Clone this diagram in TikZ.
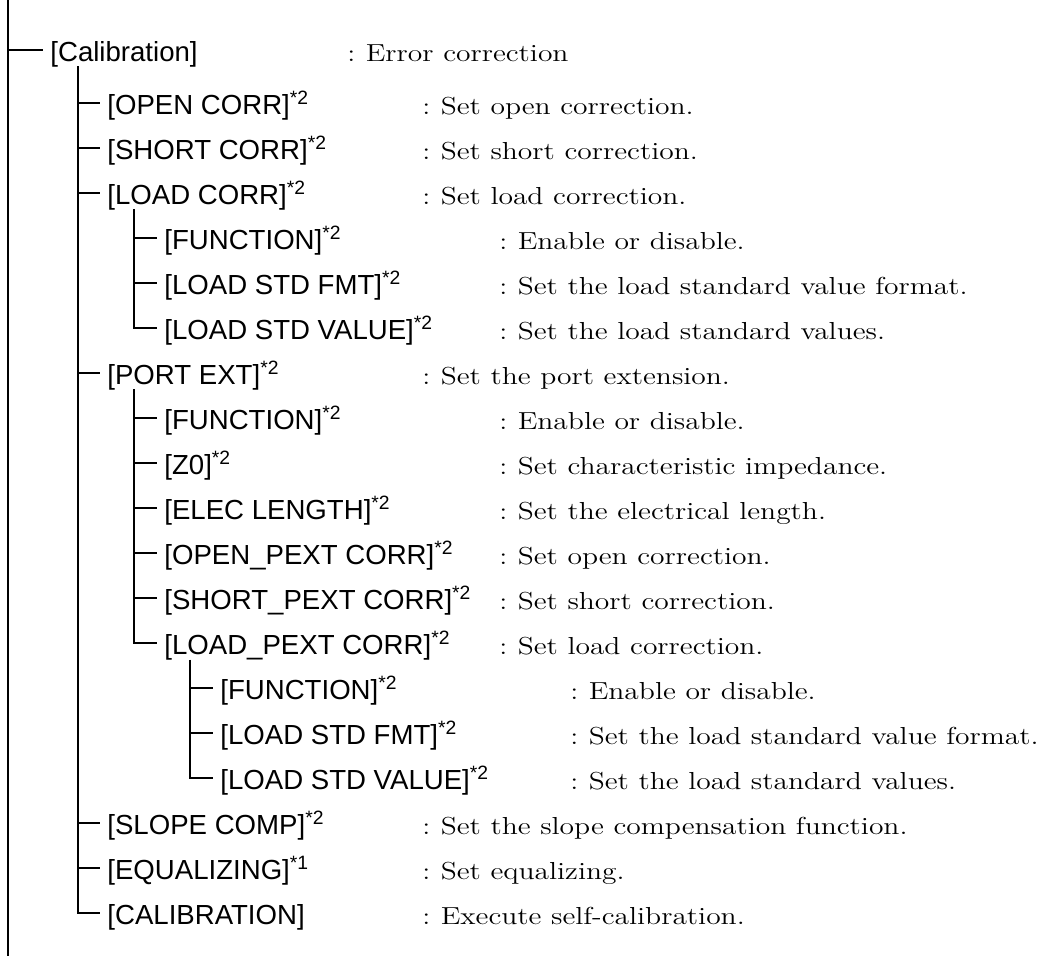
\documentclass[tikz,border=0pt]{standalone}
\usepackage{graphicx}
\usepackage{fontspec}
\newfontfamily\menufont{Liberation Sans}
\newcommand{\nt}[1]{\textsuperscript{*#1}}
\newcommand{\wide}[1]{\scalebox{1.2}[1]{:\hspace{0.35em}#1}}
\tikzset{
    item/.style={
        anchor=west,
        inner xsep=3.5pt,
        inner ysep=1.5pt,
        text height=12.4pt,
        text depth=0.7pt,
        font=\menufont\fontsize{13.8}{16}\selectfont
    },
    desc/.style={
        anchor=west,
        inner sep=0pt,
        text height=12.4pt,
        text depth=0.7pt,
        font=\fontsize{12.3}{14}\selectfont
    },
    branch/.style={
        line width=1pt
    }
}
\begin{document}
\begin{tikzpicture}[x=0.5pt,y=-0.5pt]

      \useasboundingbox (0,0) rectangle (1054,956);

      \coordinate (v0) at (8,0);
      \coordinate (v1) at (78,0);
      \coordinate (v2) at (134,0);
      \coordinate (v3) at (190,0);
      \coordinate (end) at (8,956);

      % menu items
      \node[item] (cal) at (43,50) {[Calibration]};
      \node[item] (open) at (100,103) {[OPEN CORR]\nt2};
      \node[item] (short) at (100,148) {[SHORT CORR]\nt2};
      \node[item] (load) at (100,193) {[LOAD CORR]\nt2};
      \node[item] (lfun) at (157,238) {[FUNCTION]\nt2};
      \node[item] (lfmt) at (157,283) {[LOAD STD FMT]\nt2};
      \node[item] (lval) at (157,328) {[LOAD STD VALUE]\nt2};
      \node[item] (port) at (100,373) {[PORT EXT]\nt2};
      \node[item] (pfun) at (157,418) {[FUNCTION]\nt2};
      \node[item] (pz0) at (157,463) {[Z0]\nt2};
      \node[item] (pelec) at (157,508) {[ELEC LENGTH]\nt2};
      \node[item] (popen) at (157,553) {[OPEN\_PEXT CORR]\nt2};
      \node[item] (pshort) at (157,598) {[SHORT\_PEXT CORR]\nt2};
      \node[item] (pload) at (157,643) {[LOAD\_PEXT CORR]\nt2};
      \node[item] (qfun) at (213,688) {[FUNCTION]\nt2};
      \node[item] (qfmt) at (213,733) {[LOAD STD FMT]\nt2};
      \node[item] (qval) at (213,778) {[LOAD STD VALUE]\nt2};
      \node[item] (slope) at (100,823) {[SLOPE COMP]\nt2};
      \node[item] (equal) at (100,868) {[EQUALIZING]\nt1};
      \node[item] (calib) at (100,913) {[CALIBRATION]};

      % descriptions
      \node[desc] (dcal) at (347,50) {\wide{Error correction}};
      \node[desc] (dopen) at (422,103) {\wide{Set open correction.}};
      \node[desc] (dshort) at (422,148) {\wide{Set short correction.}};
      \node[desc] (dload) at (422,193) {\wide{Set load correction.}};
      \node[desc] (dlfun) at (499,238) {\wide{Enable or disable.}};
      \node[desc] (dlfmt) at (499,283) {\wide{Set the load standard value format.}};
      \node[desc] (dlval) at (499,328) {\wide{Set the load standard values.}};
      \node[desc] (dport) at (422,373) {\wide{Set the port extension.}};
      \node[desc] (dpfun) at (499,418) {\wide{Enable or disable.}};
      \node[desc] (dpz0) at (499,463) {\wide{Set characteristic impedance.}};
      \node[desc] (dpelec) at (499,508) {\wide{Set the electrical length.}};
      \node[desc] (dpopen) at (499,553) {\wide{Set open correction.}};
      \node[desc] (dpshort) at (499,598) {\wide{Set short correction.}};
      \node[desc] (dpload) at (499,643) {\wide{Set load correction.}};
      \node[desc] (dqfun) at (570,688) {\wide{Enable or disable.}};
      \node[desc] (dqfmt) at (570,733) {\wide{Set the load standard value format.}};
      \node[desc] (dqval) at (570,778) {\wide{Set the load standard values.}};
      \node[desc] (dslope) at (422,823) {\wide{Set the slope compensation function.}};
      \node[desc] (dequal) at (422,868) {\wide{Set equalizing.}};
      \node[desc] (dcalib) at (422,913) {\wide{Execute self-calibration.}};

      % tree lines
      \draw[branch] (v0) -- (end);
      \draw[branch] (cal.west -| v0) -- (cal.west);
      \draw[branch] (cal.south -| v1) |- (calib.west);
      \foreach \n in {open,short,load,port,slope,equal}
        \draw[branch] (\n.west -| v1) -- (\n.west);
      \draw[branch] (load.south -| v2) |- (lval.west);
      \foreach \n in {lfun,lfmt}
        \draw[branch] (\n.west -| v2) -- (\n.west);
      \draw[branch] (port.south -| v2) |- (pload.west);
      \foreach \n in {pfun,pz0,pelec,popen,pshort}
        \draw[branch] (\n.west -| v2) -- (\n.west);
      \draw[branch] (pload.south -| v3) |- (qval.west);
      \foreach \n in {qfun,qfmt}
        \draw[branch] (\n.west -| v3) -- (\n.west);

\end{tikzpicture}
\end{document}
